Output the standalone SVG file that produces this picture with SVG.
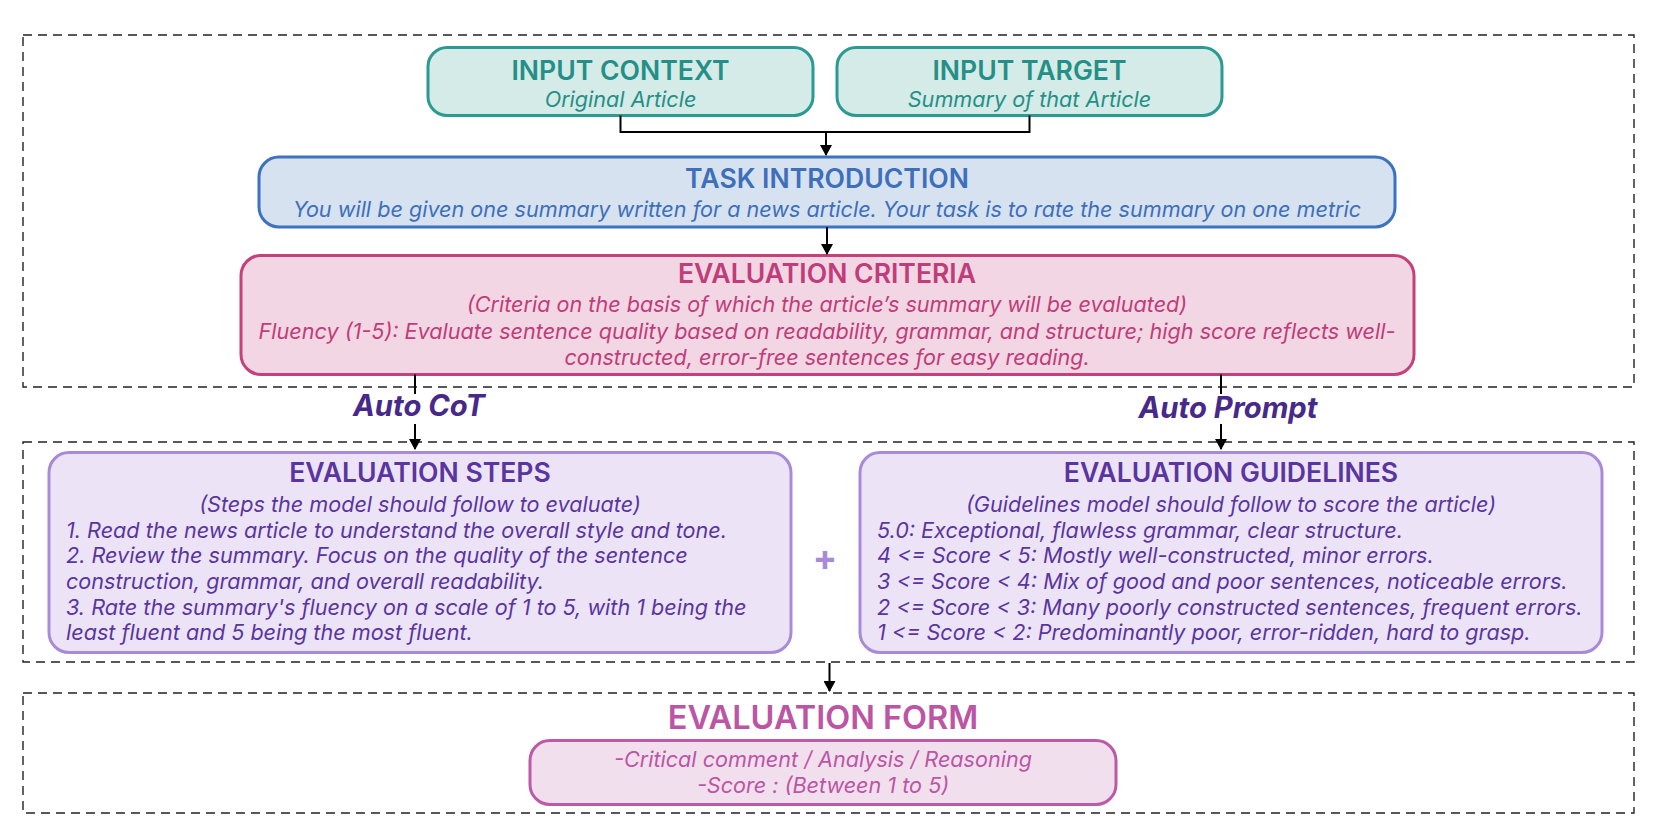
<svg xmlns="http://www.w3.org/2000/svg" width="1661" height="840" viewBox="0 0 1661 840">
<style>
.dash{fill:none;stroke:#222;stroke-width:1.4;stroke-dasharray:9 6}
.box{stroke-width:3}
.t{font-family:Inter,"Noto Sans","Liberation Sans",sans-serif;font-weight:600;font-size:26.6px;text-anchor:middle}
.i{font-family:Inter,"Noto Sans","Liberation Sans",sans-serif;font-style:italic;font-size:21.6px}
.c{text-anchor:middle}
.conn{fill:none;stroke:#000;stroke-width:2}
.lbl{font-family:Inter,"Noto Sans","Liberation Sans",sans-serif;font-weight:700;font-style:italic;font-size:29.2px;fill:#47298a;text-anchor:middle}
</style>
<defs>
<marker id="arr" markerWidth="12" markerHeight="12" refX="10" refY="6" orient="auto" markerUnits="userSpaceOnUse" viewBox="0 0 12 12">
<path d="M0,0 L11,6 L0,12 z" fill="#000"/>
</marker>
</defs>
<rect width="1661" height="840" fill="#fff"/>
<g id="frames">
<rect class="dash" x="23" y="35" width="1611" height="352"/>
<rect class="dash" x="23" y="442" width="1611" height="220"/>
<rect class="dash" x="23" y="693" width="1611" height="120"/>
</g>
<g id="input-context">
<rect class="box" x="428" y="47.5" width="385" height="68" rx="19" fill="#d4ebe8" stroke="#2a9a92"/>
<text class="t" x="620.5" y="80" fill="#258f87">INPUT CONTEXT</text>
<text class="i c" x="620.5" y="107" fill="#258f87">Original Article</text>
</g>
<g id="input-target">
<rect class="box" x="837" y="47.5" width="385" height="68" rx="19" fill="#d4ebe8" stroke="#2a9a92"/>
<text class="t" x="1029.5" y="80" fill="#258f87">INPUT TARGET</text>
<text class="i c" x="1029.5" y="107" fill="#258f87">Summary of that Article</text>
</g>
<g id="task-introduction">
<rect class="box" x="259" y="157" width="1136" height="70" rx="20" fill="#d7e2f0" stroke="#3c72c0"/>
<text class="t" x="827" y="188" fill="#3d6fba">TASK INTRODUCTION</text>
<text class="i c" x="827" y="217" fill="#3d6fba">You will be given one summary written for a news article. Your task is to rate the summary on one metric</text>
</g>
<g id="evaluation-criteria">
<rect class="box" x="241" y="255.5" width="1173" height="119" rx="20" fill="#f2d6e3" stroke="#c4417e"/>
<text class="t" x="827" y="283" fill="#c03c7a">EVALUATION CRITERIA</text>
<text class="i c" x="827" y="312" fill="#c03c7a">(Criteria on the basis of which the article’s summary will be evaluated)</text>
<text class="i c" x="827" y="338.5" fill="#c03c7a">Fluency (1-5): Evaluate sentence quality based on readability, grammar, and structure; high score reflects well-</text>
<text class="i c" x="827" y="364.5" fill="#c03c7a">constructed, error-free sentences for easy reading.</text>
</g>
<g id="evaluation-steps">
<rect class="box" x="49" y="452.5" width="742" height="200" rx="20" fill="#ece4f6" stroke="#a98ad9"/>
<text class="t" x="420" y="481.5" fill="#5a35a0">EVALUATION STEPS</text>
<text class="i c" x="420" y="511.5" fill="#5a35a0">(Steps the model should follow to evaluate)</text>
<text class="i" x="66" y="537.5" fill="#5a35a0">1. Read the news article to understand the overall style and tone.</text>
<text class="i" x="66" y="563" fill="#5a35a0">2. Review the summary. Focus on the quality of the sentence</text>
<text class="i" x="66" y="589" fill="#5a35a0">construction, grammar, and overall readability.</text>
<text class="i" x="66" y="614.5" fill="#5a35a0">3. Rate the summary's fluency on a scale of 1 to 5, with 1 being the</text>
<text class="i" x="66" y="640" fill="#5a35a0">least fluent and 5 being the most fluent.</text>
</g>
<g id="plus">
<text x="825" y="570" font-family="Inter,'Liberation Sans',sans-serif" font-weight="700" font-size="36" fill="#a98ad9" text-anchor="middle">+</text>
</g>
<g id="evaluation-guidelines">
<rect class="box" x="860" y="452.5" width="742" height="200" rx="20" fill="#ece4f6" stroke="#a98ad9"/>
<text class="t" x="1231" y="481.5" fill="#5a35a0">EVALUATION GUIDELINES</text>
<text class="i c" x="1231" y="511.5" fill="#5a35a0">(Guidelines model should follow to score the article)</text>
<text class="i" x="877" y="537.5" fill="#5a35a0">5.0: Exceptional, flawless grammar, clear structure.</text>
<text class="i" x="877" y="563" fill="#5a35a0">4 &lt;= Score &lt; 5: Mostly well-constructed, minor errors.</text>
<text class="i" x="877" y="589" fill="#5a35a0">3 &lt;= Score &lt; 4: Mix of good and poor sentences, noticeable errors.</text>
<text class="i" x="877" y="614.5" fill="#5a35a0">2 &lt;= Score &lt; 3: Many poorly constructed sentences, frequent errors.</text>
<text class="i" x="877" y="640" fill="#5a35a0">1 &lt;= Score &lt; 2: Predominantly poor, error-ridden, hard to grasp.</text>
</g>
<g id="evaluation-form">
<text x="823" y="729" font-family="Inter,'Noto Sans','Liberation Sans',sans-serif" font-weight="600" font-size="32.5" fill="#bb55a4" text-anchor="middle">EVALUATION FORM</text>
<rect class="box" x="530" y="740.5" width="586" height="64" rx="20" fill="#f2dfee" stroke="#bb5aa6"/>
<text class="i c" x="823" y="767" fill="#bb55a4">-Critical comment / Analysis / Reasoning</text>
<text class="i c" x="823" y="792.5" fill="#bb55a4">-Score : (Between 1 to 5)</text>
</g>
<g id="connectors">
<path class="conn" d="M620.5,115.5 V132 H1029.5 V115.5"/>
<path class="conn" d="M826,132 V155" marker-end="url(#arr)"/>
<path class="conn" d="M827,227 V254" marker-end="url(#arr)"/>
<path class="conn" d="M415,374.5 V394"/>
<path class="conn" d="M415,424 V449" marker-end="url(#arr)"/>
<text class="lbl" x="419" y="416">Auto CoT</text>
<path class="conn" d="M1221,374.5 V394"/>
<path class="conn" d="M1221,424 V449" marker-end="url(#arr)"/>
<text class="lbl" x="1228" y="418">Auto Prompt</text>
<path class="conn" d="M829.5,663 V691" marker-end="url(#arr)"/>
</g>
</svg>
